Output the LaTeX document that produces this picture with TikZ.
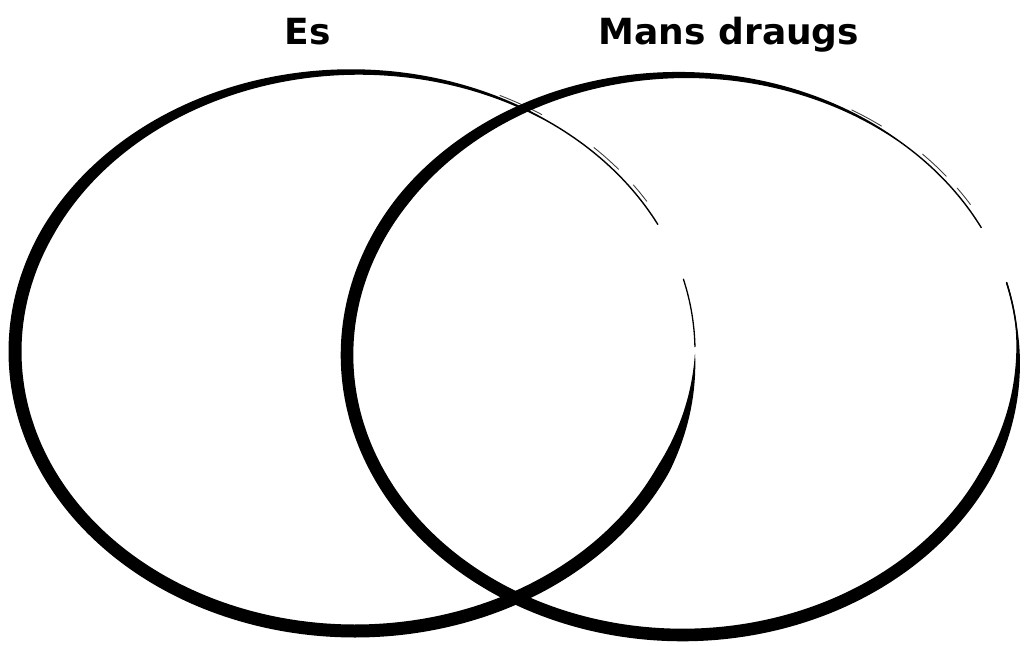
\documentclass[tikz,border=0pt]{standalone}
\usepackage{fontspec}
\setsansfont{DejaVu Sans}
\tikzset{
  brush/.style={fill=black, draw=none},
  thinstroke/.style={draw=black, line width=1.3pt, line cap=round},
  bristle/.style={draw=black!75, line width=0.9pt, line cap=round},
  setname/.style={font=\sffamily\bfseries\fontsize{36}{40}\selectfont, anchor=base, inner sep=0pt},
}
\begin{document}
\begin{tikzpicture}[x=1pt, y=-1pt,
    declare function={
      hl(\t)=min(6.5*min(1,\t/25), max(0.7, 6.5-(\t-205)*0.058));
      hr(\t)=min(6.3*min(1,max(0.12,(\t+10)/35)), max(0.7, 6.3-(\t-214)*0.058));
    }]
    \useasboundingbox (0,0) rectangle (1025,645);
    % nazwy zbiorow
    \node[setname] (es) at (308,44) {Es};
    \node[setname] (draugs) at (729,44) {Mans draugs};
    % lewa elipsa (pociagniecie pedzlem)
    \fill[brush] plot[domain=0.5:333, samples=220, smooth]
        ({355+(340+hl(\x))*cos(\x)}, {351.5+(279.5+hl(\x))*sin(\x)})
      -- plot[domain=333:0.5, samples=220, smooth]
        ({355+(340-hl(\x))*cos(\x)}, {351.5+(279.5-hl(\x))*sin(\x)}) -- cycle;
    \draw[thinstroke] plot[domain=345:359, samples=20, smooth] ({355+340*cos(\x)}, {351.5+279.5*sin(\x)});
    % wloski pedzla
    \draw[bristle] plot[domain=295:303, samples=10, smooth] ({355+343*cos(\x)}, {351.5+282.5*sin(\x)});
    \draw[bristle] plot[domain=314:320, samples=10, smooth] ({355+344*cos(\x)}, {351.5+283.5*sin(\x)});
    \draw[bristle] plot[domain=324:328, samples=10, smooth] ({355+344*cos(\x)}, {351.5+283.5*sin(\x)});
    % prawa elipsa
    \fill[brush] plot[domain=-15:333, samples=240, smooth]
        ({682.5+(335.5+hr(\x))*cos(\x)}, {355+(280+hr(\x))*sin(\x)})
      -- plot[domain=333:-15, samples=240, smooth]
        ({682.5+(335.5-hr(\x))*cos(\x)}, {355+(280-hr(\x))*sin(\x)}) -- cycle;
    \draw[thinstroke] plot[domain=345:355, samples=20, smooth] ({682.5+335.5*cos(\x)}, {355+280*sin(\x)});
    \draw[bristle] plot[domain=300:306, samples=10, smooth] ({682.5+338.5*cos(\x)}, {355+283*sin(\x)});
    \draw[bristle] plot[domain=315:321, samples=10, smooth] ({682.5+339.5*cos(\x)}, {355+284*sin(\x)});
    \draw[bristle] plot[domain=324:328, samples=10, smooth] ({682.5+339.5*cos(\x)}, {355+284*sin(\x)});
\end{tikzpicture}
\end{document}
